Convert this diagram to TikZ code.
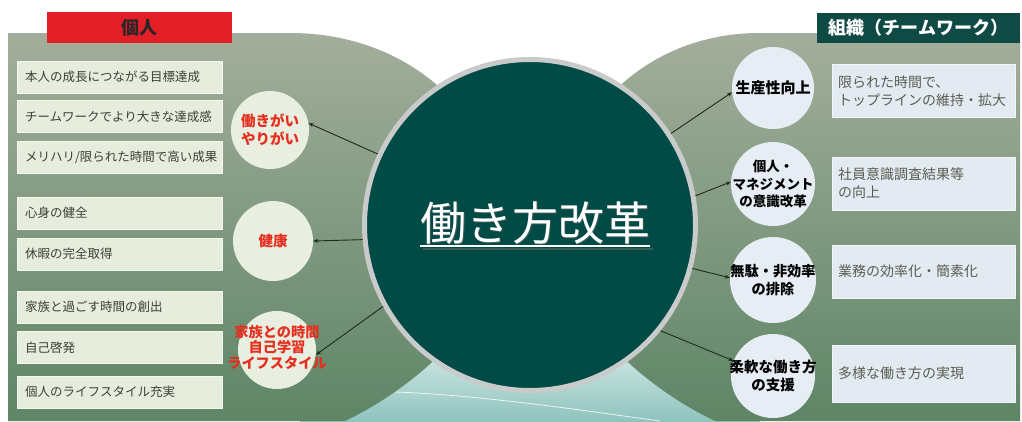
\documentclass[tikz,border=0pt]{standalone}
\usepackage{fontspec}
\setmainfont{Noto Sans CJK JP}
\usetikzlibrary{arrows.meta}
\definecolor{panelTop}{HTML}{A3AE9B}
\definecolor{panelMid}{HTML}{97A68F}
\definecolor{panelBot}{HTML}{5E8566}
\definecolor{lboxfill}{HTML}{E6EDDC}
\definecolor{rboxfill}{HTML}{E3EAF2}
\definecolor{lcircfill}{HTML}{E8EFE1}
\definecolor{rcircfill}{HTML}{E6EDF4}
\definecolor{ltext}{HTML}{3E4038}
\definecolor{rtext}{HTML}{5A5E52}
\definecolor{redtxt}{HTML}{E62E1E}
\definecolor{hdrred}{HTML}{E21E26}
\definecolor{hdrteal}{HTML}{0F4A44}
\definecolor{ctrteal}{HTML}{004B46}
\definecolor{ringgrey}{HTML}{C9CACA}
\definecolor{linecol}{HTML}{1E2A22}
\definecolor{seafoam}{HTML}{8FC4BE}
\begin{document}
\begin{tikzpicture}[x=1pt,y=-1pt,
  lbox/.style={rectangle, fill=lboxfill, draw=white!55!lboxfill, line width=0.6pt,
    text width=189pt, inner xsep=8pt, inner ysep=0pt, minimum height=32pt,
    align=left, font=\fontsize{12.5}{14}\selectfont, text=ltext},
  rbox/.style={rectangle, fill=rboxfill, draw=white!55!rboxfill, line width=0.6pt,
    text width=171pt, inner xsep=6pt, inner ysep=0pt, minimum height=53pt,
    align=left, font=\fontsize{14}{18}\selectfont, text=rtext},
  lcirc/.style={circle, fill=lcircfill, minimum size=78pt, inner sep=0pt},
  rcirc/.style={circle, fill=rcircfill, minimum size=84pt, inner sep=0pt},
  ltxt/.style={align=center, text=redtxt, inner sep=0pt},
  rtxt/.style={align=center, text=black, inner sep=0pt},
  arr/.style={draw=linecol, line width=0.9pt, -{Stealth[length=5pt,width=4pt]}},
  hdr/.style={rectangle, inner sep=0pt, font=\bfseries\fontsize{18}{18}\selectfont}
]
\useasboundingbox (0,0) rectangle (1022,421);
\fill[white] (0,0) rectangle (1022,421);

% bottom light area
\shade[top color=white, bottom color=seafoam] (300,300) rectangle (760,421);
\draw[white, line width=0.8pt, opacity=0.8] (395,392) .. controls (480,395) and (580,410) .. (660,421);

% left panel
\shade[top color=panelTop, middle color=panelMid, bottom color=panelBot]
  (8,33) -- (290,33) .. controls (390,33) and (470,90) .. (500,180)
  -- (500,260) .. controls (480,330) and (410,390) .. (345,421) -- (8,421) -- cycle;
% right panel
\shade[top color=panelTop, middle color=panelMid, bottom color=panelBot]
  (1020,33) -- (760,33) .. controls (665,33) and (590,90) .. (560,180)
  -- (560,260) .. controls (580,330) and (650,390) .. (715,421) -- (1020,421) -- cycle;

% headers
\node[hdr, fill=hdrred, minimum width=185pt, minimum height=31pt, text=black!85] (hl) at (139.5,27.5) {個人};
\node[hdr, fill=hdrteal, minimum width=203pt, minimum height=30pt, text=white] (hr) at (918.5,28) {組織（チームワーク）};

% left boxes
\node[lbox] (b1) at (119.5,77) {本人の成長につながる目標達成};
\node[lbox] (b2) at (119.5,116.5) {チームワークでより大きな達成感};
\node[lbox] (b3) at (119.5,157.5) {メリハリ/限られた時間で高い成果};
\node[lbox] (b4) at (119.5,213) {心身の健全};
\node[lbox] (b5) at (119.5,254) {休暇の完全取得};
\node[lbox] (b6) at (119.5,307) {家族と過ごす時間の創出};
\node[lbox] (b7) at (119.5,347.5) {自己啓発};
\node[lbox] (b8) at (119.5,392) {個人のライフスタイル充実};

% right boxes
\node[rbox] (r1) at (923.5,91) {限られた時間で、\\トップラインの維持・拡大};
\node[rbox] (r2) at (923.5,183.5) {社員意識調査結果等\\の向上};
\node[rbox] (r3) at (923.5,271.5) {業務の効率化・簡素化};
\node[rbox, minimum height=57pt] (r4) at (923.5,373.5) {多様な働き方の実現};

% left circles
\node[lcirc] (c1) at (270,130) {};
\node[lcirc, minimum size=80pt] (c2) at (273,241) {};
\node[lcirc] (c3) at (277,350) {};
\node[ltxt, font=\bfseries\fontsize{14.5}{18}\selectfont] (t1) at (c1) {働きがい\\やりがい};
\node[ltxt, font=\bfseries\fontsize{14.5}{18}\selectfont] (t2) at (c2) {健康};
\node[ltxt, font=\bfseries\fontsize{14.2}{15.5}\selectfont] (t3) at (277,347) {家族との時間\\自己学習\\ライフスタイル};

% right circles
\node[rcirc, minimum size=82pt] (d1) at (773,88) {};
\node[rcirc] (d2) at (773,184) {};
\node[rcirc, minimum size=86pt] (d3) at (773,280) {};
\node[rcirc] (d4) at (773,376) {};
\node[rtxt, font=\bfseries\fontsize{15}{17}\selectfont] (u1) at (d1) {生産性向上};
\node[rtxt, font=\bfseries\fontsize{13.5}{17.5}\selectfont] (u2) at (d2) {個人・\\マネジメント\\の意識改革};
\node[rtxt, font=\bfseries\fontsize{14.2}{18}\selectfont] (u3) at (d3) {無駄・非効率\\の排除};
\node[rtxt, font=\bfseries\fontsize{14.5}{18}\selectfont] (u4) at (d4) {柔軟な働き方\\の支援};

% center circle
\node[circle, fill=ctrteal, draw=ringgrey, line width=5pt, minimum size=331pt, inner sep=0pt] (ctr) at (530,225) {};
\node[text=black!60, opacity=0.6, inner sep=0pt, font=\fontsize{46}{46}\selectfont] (tshadow) at (536.5,224.5) {働き方改革};
\draw[black!60, opacity=0.6, line width=2pt] ([xshift=1.5pt,yshift=-2.5pt]tshadow.south west) -- ([xshift=1.5pt,yshift=-2.5pt]tshadow.south east);
\node[text=white, inner sep=0pt, font=\fontsize{46}{46}\selectfont] (title) at (535,223) {働き方改革};
\draw[white, line width=2pt] ([yshift=-1pt]title.south west) -- ([yshift=-1pt]title.south east);

% connectors
\draw[arr] (ctr.155) -- (c1.10);
\draw[arr] (ctr.185) -- (c2.0);
\draw[arr] (ctr.209) -- (c3.353);
\draw[arr] (ctr.33) -- (d1.186);
\draw[arr] (ctr.10) -- (d2.177);
\draw[arr] (ctr.345) -- (d3.177);
\draw[arr] (ctr.321) -- (d4.159);
\end{tikzpicture}
\end{document}
